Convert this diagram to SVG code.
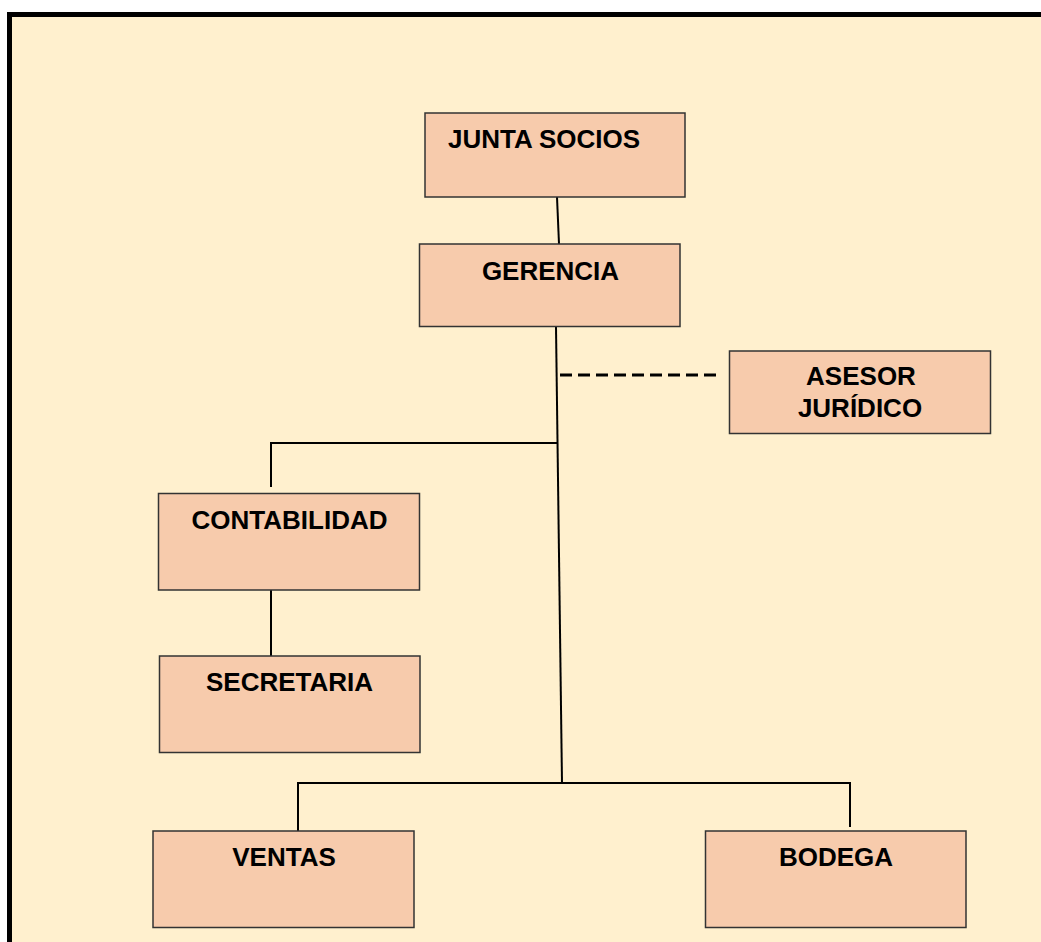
<svg xmlns="http://www.w3.org/2000/svg" width="1041" height="942" viewBox="0 0 1041 942">
<style>
.box{fill:#F7CBAC;stroke:#333;stroke-width:1.5}
.t{font-family:"Liberation Sans",Arial,sans-serif;font-weight:bold;font-size:26px;fill:#000;text-anchor:middle}
.c{fill:none;stroke:#000;stroke-width:2}
.d{fill:none;stroke:#000;stroke-width:3;stroke-dasharray:12 6}
</style>
<rect x="0" y="0" width="1041" height="942" fill="#fff"/>
<rect x="9.5" y="14.5" width="1100" height="1000" fill="#FFF0CE" stroke="#000" stroke-width="5"/>
<g id="connectors">
<line class="c" x1="557" y1="197" x2="559" y2="244"/>
<line class="c" x1="556" y1="327" x2="562" y2="783"/>
<line class="d" x1="560" y1="375" x2="720" y2="375"/>
<polyline class="c" points="557,443 271,443 271,487"/>
<line class="c" x1="271" y1="590" x2="271" y2="656"/>
<polyline class="c" points="298,831 298,783 850,783 850,827"/>
</g>
<g id="junta"><rect class="box" x="425" y="113" width="260" height="84"/><text class="t" x="544" y="148">JUNTA SOCIOS</text></g>
<g id="gerencia"><rect class="box" x="419.5" y="244" width="260.5" height="82.5"/><text class="t" x="550.5" y="280">GERENCIA</text></g>
<g id="asesor"><rect class="box" x="729.5" y="351" width="261" height="82.5"/><text class="t" x="861" y="385">ASESOR</text><text class="t" x="860" y="417">JURÍDICO</text></g>
<g id="contabilidad"><rect class="box" x="158.5" y="493.5" width="261" height="96.5"/><text class="t" x="289.5" y="529">CONTABILIDAD</text></g>
<g id="secretaria"><rect class="box" x="159.5" y="656" width="260.5" height="96.5"/><text class="t" x="289.5" y="690.5">SECRETARIA</text></g>
<g id="ventas"><rect class="box" x="153" y="831" width="261" height="96.5"/><text class="t" x="284" y="866">VENTAS</text></g>
<g id="bodega"><rect class="box" x="705.5" y="831" width="260.5" height="96.5"/><text class="t" x="836" y="866">BODEGA</text></g>
</svg>
